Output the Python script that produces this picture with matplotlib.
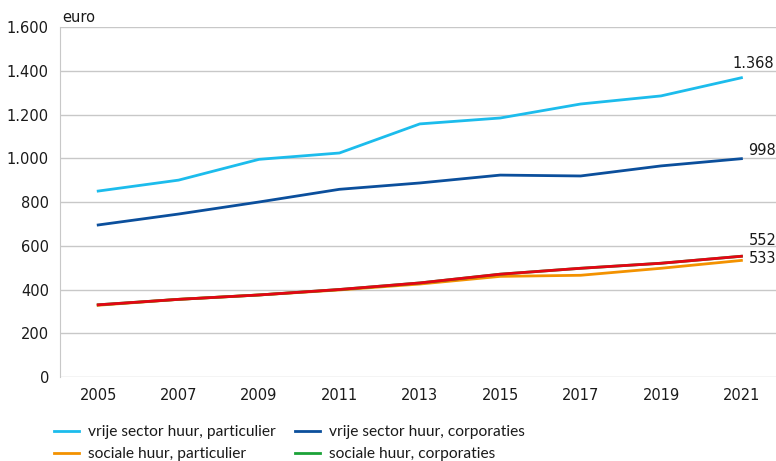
import matplotlib
matplotlib.use("Agg")
import matplotlib.pyplot as plt
from matplotlib.ticker import FuncFormatter

years = ["2005", "2007", "2009", "2011", "2013", "2015", "2017", "2019", "2021"]
vrij_part = [850, 900, 995, 1024, 1157, 1184, 1248, 1285, 1368]
vrij_corp = [695, 745, 800, 858, 887, 923, 919, 965, 998]
soc_part = [328, 355, 375, 398, 425, 460, 465, 497, 533]
soc_corp = [330, 355, 375, 400, 430, 470, 497, 520, 552]
totaal = [330, 355, 375, 400, 430, 470, 497, 520, 552]

C_LIGHT = "#1cbcec"
C_DARK = "#0b4f9c"
C_ORANGE = "#f39200"
C_GREEN = "#1ba238"
C_RED = "#e30613"
TXT = "#1a1a1a"

fig = plt.figure(figsize=(7.76, 4.61), dpi=100)
ax = fig.add_axes([60 / 776, 84 / 461, 716 / 776, 350 / 461])

x = list(range(len(years)))
l1, = ax.plot(x, vrij_part, color=C_LIGHT, lw=2, label="vrije sector huur, particulier")
l2, = ax.plot(x, vrij_corp, color=C_DARK, lw=2, label="vrije sector huur, corporaties")
l3, = ax.plot(x, soc_part, color=C_ORANGE, lw=2, label="sociale huur, particulier")
l4, = ax.plot(x, soc_corp, color=C_GREEN, lw=2, label="sociale huur, corporaties")
ax.plot(x, totaal, color=C_RED, lw=2)

ax.set_xlim(-0.475, 8.43)
ax.set_ylim(0, 1600)
ax.set_yticks(range(0, 1601, 200))
ax.yaxis.set_major_formatter(FuncFormatter(lambda v, p: f"{int(v):,}".replace(",", ".")))
ax.set_xticks(x)
ax.set_xticklabels(years)
ax.grid(axis="y", color="#c8c8c8", lw=1)
ax.set_axisbelow(True)
for s in ["top", "right", "bottom"]:
    ax.spines[s].set_visible(False)
ax.spines["left"].set_color("#c8c8c8")
ax.tick_params(length=0, labelsize=10.5, colors=TXT)
ax.tick_params(axis="x", pad=8)
ax.tick_params(axis="y", pad=8)


def fmt(v):
    return f"{v:,}".replace(",", ".")


# end labels (offsets in points)
ax.annotate(fmt(vrij_part[-1]), (8, vrij_part[-1]), xytext=(-6.5, 10),
            textcoords="offset points", fontsize=10.5, color=TXT,
            va="center", ha="left", annotation_clip=False)
ax.annotate(fmt(vrij_corp[-1]), (8, vrij_corp[-1]), xytext=(5, 6),
            textcoords="offset points", fontsize=10.5, color=TXT,
            va="center", ha="left", annotation_clip=False)
ax.annotate(fmt(soc_corp[-1]), (8, soc_corp[-1]), xytext=(5, 11),
            textcoords="offset points", fontsize=10.5, color=TXT,
            va="center", ha="left", annotation_clip=False)
ax.annotate(fmt(soc_part[-1]), (8, soc_part[-1]), xytext=(5, 1.5),
            textcoords="offset points", fontsize=10.5, color=TXT,
            va="center", ha="left", annotation_clip=False)

fig.text(62 / 776, 1 - 17 / 461, "euro", fontsize=10.5, color=TXT, va="center")

fig.legend(handles=[l1, l3, l2, l4], ncol=2, loc="upper left",
           bbox_to_anchor=(48 / 776, 1 - 419 / 461), frameon=False,
           prop={"family": "Lato", "size": 11.2}, handlelength=1.6,
           handletextpad=0.6, columnspacing=1.2, labelspacing=0.5,
           borderaxespad=0)
for t in fig.legends[0].get_texts():
    t.set_color(TXT)

fig.savefig("out.png", dpi=100)
